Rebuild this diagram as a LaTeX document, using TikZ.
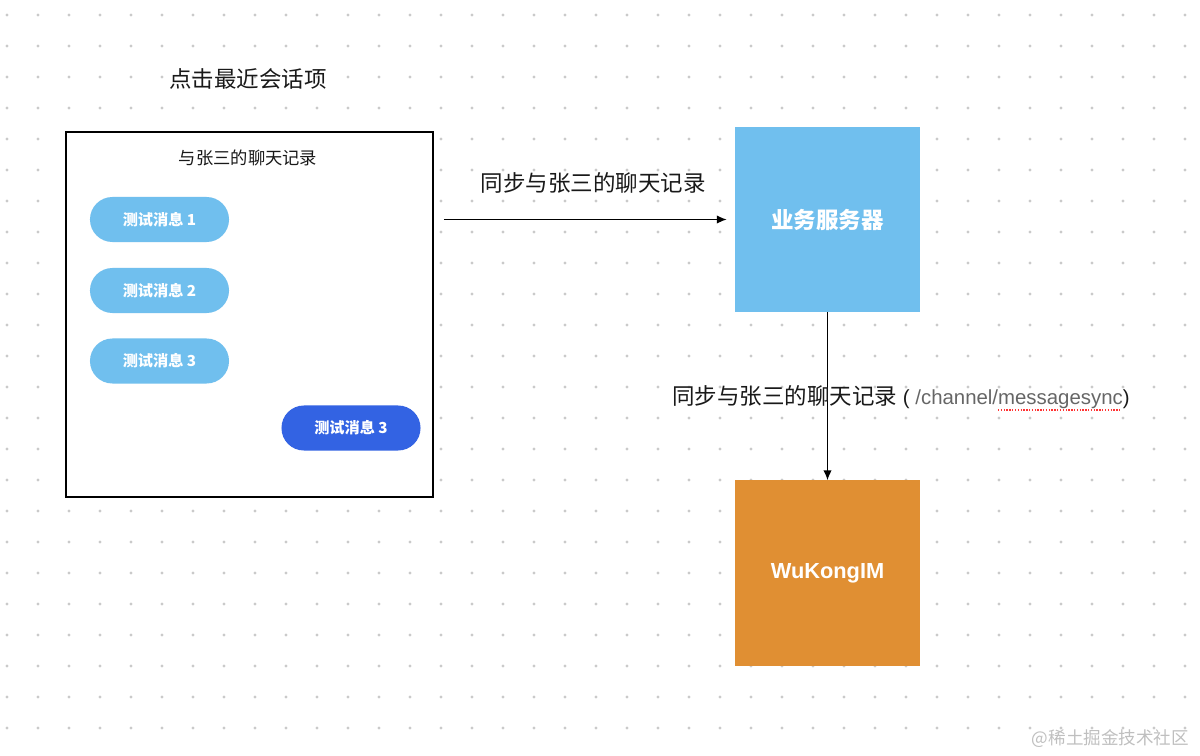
\documentclass[tikz,border=0pt]{standalone}
\usepackage{fontspec}
\setmainfont{Noto Sans CJK SC}
\newfontfamily\latinfont{Liberation Sans}
\usetikzlibrary{arrows.meta,positioning}
\definecolor{bleuclair}{HTML}{70BFEE}
\definecolor{bleufonce}{HTML}{3363E3}
\definecolor{orangeim}{HTML}{E08F33}
\definecolor{pointgrille}{HTML}{CACACA}
\tikzset{
  bulle/.style={fill=bleuclair,text=white,rounded corners=0.56cm,minimum width=3.475cm,minimum height=1.125cm,inner sep=0pt,font=\fontsize{10.8}{12}\selectfont\bfseries},
  serveur/.style={minimum width=4.625cm,minimum height=4.625cm,inner sep=0pt,text=white,font=\fontsize{16}{18}\selectfont\bfseries},
  fleche/.style={-{Latex[length=7pt,width=6pt]},line width=0.95pt},
  grand/.style={font=\fontsize{16}{18}\selectfont,text=black!90},
}
\begin{document}
\begin{tikzpicture}[x=0.025cm,y=-0.025cm]
\useasboundingbox (0,0) rectangle (1200,755);
% grille de points
\foreach \i in {0,...,38}
  \foreach \j in {0,...,23}
    \fill[pointgrille] (7+31*\i,15+31*\j) circle (1.1pt);
\node[grand] (titre) at (248,79) {点击最近会话项};
\node[draw,line width=1pt,fill=white,minimum width=9.175cm,minimum height=9.125cm] (fenetre) at (249.5,314.5) {};
\node[font=\fontsize{12.3}{14}\selectfont,text=black!90] (entete) at (248,158) {与张三的聊天记录};
\node[bulle] (m1) at (159.5,219.5) {测试消息 1};
\node[bulle] (m2) at (159.5,290.5) {测试消息 2};
\node[bulle] (m3) at (159.5,361) {测试消息 3};
\node[bulle,fill=bleufonce] (m4) at (351,428) {测试消息 3};
\node[serveur,fill=bleuclair] (biz) at (827.5,219.5) {业务服务器};
\node[serveur,fill=orangeim,font=\fontsize{15.5}{18}\selectfont\latinfont\bfseries] (wk) at (827.5,573) {WuKongIM};
\draw[fleche,shorten <=0.25cm,shorten >=0.2cm] (fenetre.east |- biz) -- (biz.west);
\node[grand] (etiq1) at (593,183) {同步与张三的聊天记录};
\draw[fleche] (biz.south) -- (wk.north);
\node[grand,anchor=west,inner sep=0pt] (etiq2) at (672,397) {同步与张三的聊天记录{\latinfont\fontsize{14.5}{16}\selectfont{} ( \textcolor{black!60}{/channel/messagesync})}};
\draw[red!80,densely dotted,line width=1pt] (998,410) -- (1120,410);%soulignement
\node[anchor=east,text=black!25,font=\fontsize{12.5}{14}\selectfont] (marque) at (1194,739) {@稀土掘金技术社区};
\end{tikzpicture}
\end{document}
